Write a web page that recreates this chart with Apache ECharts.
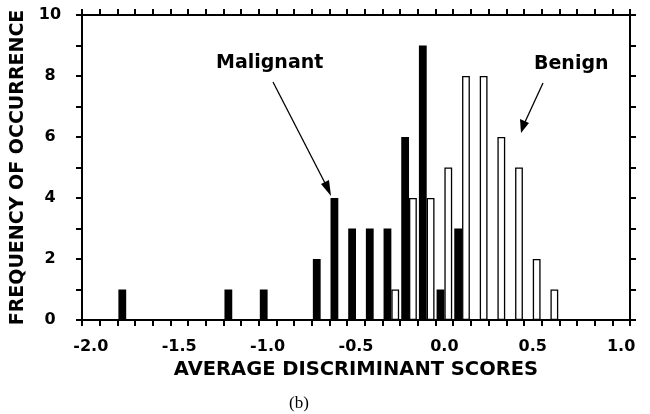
<!DOCTYPE html>
<html><head><meta charset="utf-8">
<script src="https://cdn.jsdelivr.net/npm/echarts@6/dist/echarts.min.js"></script>
<style>html,body{margin:0;padding:0;background:#fff}#c{width:650px;height:414px}</style>
</head><body><div id="c"></div>
<script>
const categories = ['-2.0','-1.9','-1.8','-1.7','-1.6','-1.5','-1.4','-1.3','-1.2','-1.1',
  '-1.0','-0.9','-0.8','-0.7','-0.6','-0.5','-0.4','-0.3','-0.2','-0.1',
  '0.0','0.1','0.2','0.3','0.4','0.5','0.6','0.7','0.8','0.9','1.0'];
const malignant = [0,0,1,0,0,0,0,0,1,0, 1,0,0,2,4,3,3,3,6,9, 1,3,0,0,0,0,0,0,0,0,0];
const benign    = [0,0,0,0,0,0,0,0,0,0, 0,0,0,0,0,0,0,1,4,4, 5,8,8,6,5,2,1,0,0,0,0];
const yLabels = [0,2,4,6,8,10];
const xTitle = 'AVERAGE DISCRIMINANT SCORES';
const yTitle = 'FREQUENCY OF OCCURRENCE';

const bold = 'DejaVu Sans';
const chart = echarts.init(document.getElementById('c'), null, {renderer:'canvas'});
const axisLine = {show:true, onZero:false, lineStyle:{color:'#000', width:2}};
const tick = {show:true, inside:false, interval:0, length:6, lineStyle:{color:'#000', width:2}};
const ytick = {show:true, inside:false, length:6, lineStyle:{color:'#000', width:2}};
chart.setOption({
  animation:false,
  backgroundColor:'#fff',
  grid:{left:82, right:20, top:15, bottom:94, containLabel:false},
  xAxis:[{
    type:'category', data:categories, position:'bottom', boundaryGap:true,
    axisLine:axisLine, axisTick:tick,
    axisLabel:{interval:4, margin:19, color:'#000', fontFamily:bold, fontWeight:'bold', fontSize:16},
    name:xTitle, nameLocation:'middle', nameGap:40,
    nameTextStyle:{color:'#000', fontFamily:bold, fontWeight:'bold', fontSize:19.5},
    splitLine:{show:false}
  },{
    type:'category', data:categories, position:'top', boundaryGap:true,
    axisLine:axisLine, axisTick:tick, axisLabel:{show:false}, splitLine:{show:false}
  }],
  yAxis:[{
    type:'value', min:0, max:10, interval:1, position:'left',
    axisLine:axisLine, axisTick:ytick,
    axisLabel:{margin:32, align:'center', color:'#000', fontFamily:bold, fontWeight:'bold', fontSize:16,
      formatter:v => yLabels.indexOf(v) >= 0 ? String(v) : ''},
    name:yTitle, nameLocation:'middle', nameGap:53,
    nameTextStyle:{color:'#000', fontFamily:bold, fontWeight:'bold', fontSize:19},
    splitLine:{show:false}
  },{
    type:'value', min:0, max:10, interval:1, position:'right',
    axisLine:axisLine, axisTick:ytick,
    axisLabel:{show:false}, splitLine:{show:false}
  }],
  series:[{
    name:'Malignant', type:'bar', xAxisIndex:0, yAxisIndex:0,
    data:malignant.map(v => v === 0 ? '-' : v),
    barWidth:7.8, barGap:'0%',
    itemStyle:{color:'#000'}
  },{
    name:'Benign', type:'bar', xAxisIndex:0, yAxisIndex:0,
    data:benign.map(v => v === 0 ? '-' : v),
    barWidth:7.8, barGap:'0%',
    itemStyle:{color:'#fff', borderColor:'#000', borderWidth:1.3}
  }],
  graphic:[
    {type:'text', left:216, top:54, style:{text:'Malignant', fill:'#000', font:'bold 19px "DejaVu Sans"'}},
    {type:'text', left:534, top:55, style:{text:'Benign', fill:'#000', font:'bold 19px "DejaVu Sans"'}},
    {type:'line', shape:{x1:273, y1:82, x2:326, y2:185}, style:{stroke:'#000', lineWidth:1.3}},
    {type:'polygon', shape:{points:[[331,196],[321,184],[329,180]]}, style:{fill:'#000'}},
    {type:'line', shape:{x1:543, y1:83, x2:525, y2:122}, style:{stroke:'#000', lineWidth:1.3}},
    {type:'polygon', shape:{points:[[521,133],[520,119],[529,123]]}, style:{fill:'#000'}},
    {type:'text', left:289, top:395, style:{text:'(b)', fill:'#000', font:'17px "Liberation Serif"'}}
  ]
});
</script></body></html>
